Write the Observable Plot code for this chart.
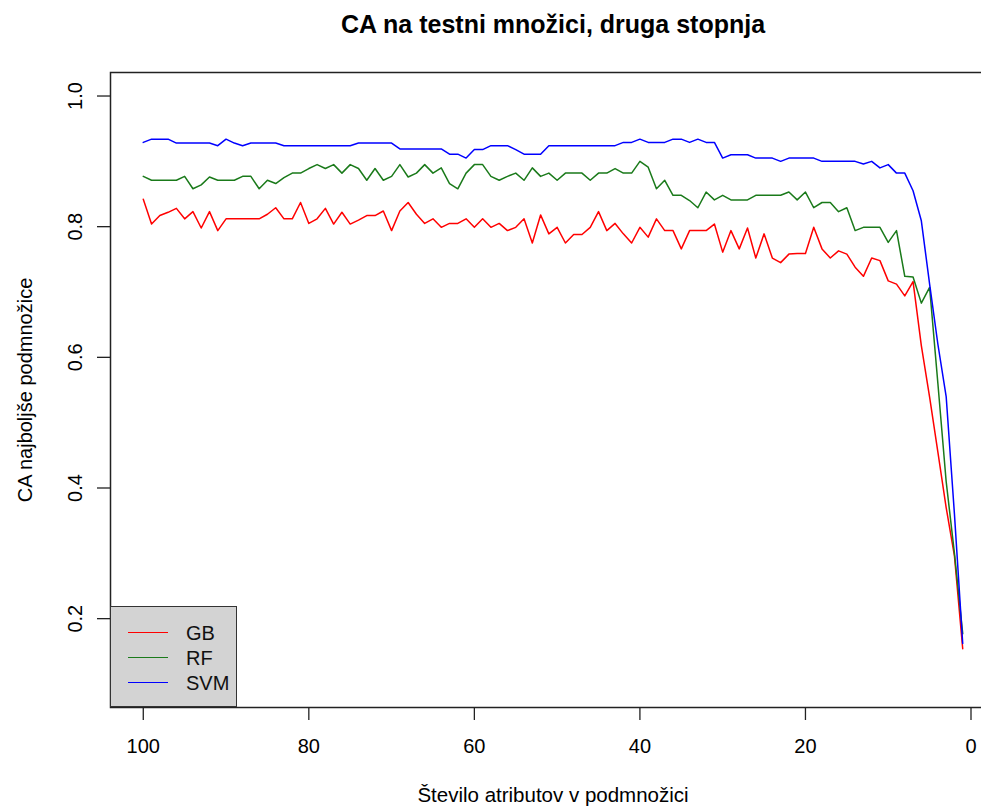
<!DOCTYPE html>
<html>
<head>
<meta charset="utf-8">
<script src="https://cdn.jsdelivr.net/npm/d3@7"></script>
<script src="https://cdn.jsdelivr.net/npm/@observablehq/plot@0.6"></script>
<style>
  html, body { margin: 0; padding: 0; background: #fff; overflow: hidden; }
  #wrap { position: relative; width: 981px; height: 807px; font-family: "Liberation Sans", Arial, sans-serif; }
  #wrap svg { overflow: hidden; }
  #legend { position: absolute; left: 110px; top: 606px; width: 127px; height: 101px; box-sizing: border-box;
            background: #d3d3d3; border: 1.5px solid #333; }
  .item { position: absolute; left: 0; height: 24px; width: 127px; }
  .item .sw { position: absolute; left: 17px; top: 11px; width: 40px; height: 0; border-top: 1.6px solid; }
  .item .lb { position: absolute; left: 75px; top: 0; font-size: 20px; line-height: 24px; color: #111; }
</style>
</head>
<body>
<div id="wrap"></div>
<script>
// ---- data ----
const title = "CA na testni množici, druga stopnja";
const xLabel = "Število atributov v podmnožici";
const yLabel = "CA najboljše podmnožice";
const models = ["GB", "RF", "SVM"];
const colors = ["#ff0000", "#1a7a1a", "#0000ff"];
const xTicks = [100, 80, 60, 40, 20, 0];
const yTicks = [0.2, 0.4, 0.6, 0.8, 1.0];

// number of attributes, from 100 down to 1
const nAttr = d3.range(100, 0, -1);

const gb = [
  0.842, 0.804, 0.817, 0.822, 0.828, 0.812, 0.823, 0.798, 0.823, 0.794,
  0.812, 0.812, 0.812, 0.812, 0.812, 0.819, 0.829, 0.812, 0.812, 0.837,
  0.805, 0.812, 0.828, 0.804, 0.822, 0.804, 0.810, 0.817, 0.817, 0.824,
  0.794, 0.824, 0.837, 0.819, 0.805, 0.812, 0.799, 0.805, 0.805, 0.812,
  0.799, 0.812, 0.799, 0.805, 0.794, 0.799, 0.812, 0.775, 0.818, 0.789,
  0.799, 0.775, 0.788, 0.788, 0.799, 0.823, 0.794, 0.805, 0.789, 0.775,
  0.799, 0.784, 0.812, 0.794, 0.794, 0.766, 0.794, 0.794, 0.794, 0.804,
  0.761, 0.794, 0.766, 0.798, 0.752, 0.789, 0.752, 0.745, 0.758, 0.759,
  0.759, 0.799, 0.766, 0.752, 0.763, 0.758, 0.738, 0.724, 0.752, 0.748,
  0.717, 0.712, 0.694, 0.716, 0.618, 0.539, 0.455, 0.370, 0.296, 0.154
];
const rf = [
  0.877, 0.871, 0.871, 0.871, 0.871, 0.877, 0.858, 0.864, 0.876, 0.871,
  0.871, 0.871, 0.877, 0.877, 0.858, 0.871, 0.866, 0.875, 0.882, 0.882,
  0.889, 0.895, 0.889, 0.895, 0.882, 0.895, 0.889, 0.871, 0.889, 0.871,
  0.877, 0.895, 0.876, 0.882, 0.895, 0.882, 0.890, 0.866, 0.858, 0.882,
  0.895, 0.895, 0.877, 0.871, 0.877, 0.882, 0.871, 0.890, 0.877, 0.882,
  0.871, 0.882, 0.882, 0.882, 0.871, 0.882, 0.882, 0.889, 0.882, 0.882,
  0.900, 0.891, 0.858, 0.871, 0.848, 0.848, 0.840, 0.829, 0.853, 0.841,
  0.848, 0.841, 0.841, 0.841, 0.848, 0.848, 0.848, 0.848, 0.853, 0.841,
  0.853, 0.829, 0.837, 0.837, 0.823, 0.829, 0.794, 0.799, 0.799, 0.799,
  0.776, 0.794, 0.724, 0.723, 0.683, 0.707, 0.560, 0.410, 0.300, 0.177
];
const svm = [
  0.929, 0.934, 0.934, 0.934, 0.928, 0.928, 0.928, 0.928, 0.928, 0.924,
  0.934, 0.928, 0.924, 0.928, 0.928, 0.928, 0.928, 0.924, 0.924, 0.924,
  0.924, 0.924, 0.924, 0.924, 0.924, 0.924, 0.928, 0.928, 0.928, 0.928,
  0.928, 0.919, 0.919, 0.919, 0.919, 0.919, 0.919, 0.911, 0.911, 0.905,
  0.918, 0.918, 0.924, 0.924, 0.924, 0.918, 0.911, 0.911, 0.911, 0.924,
  0.924, 0.924, 0.924, 0.924, 0.924, 0.924, 0.924, 0.924, 0.929, 0.929,
  0.934, 0.929, 0.929, 0.929, 0.934, 0.934, 0.929, 0.934, 0.929, 0.929,
  0.905, 0.910, 0.910, 0.910, 0.905, 0.905, 0.905, 0.900, 0.905, 0.905,
  0.905, 0.905, 0.900, 0.900, 0.900, 0.900, 0.900, 0.896, 0.900, 0.890,
  0.895, 0.882, 0.882, 0.855, 0.809, 0.712, 0.620, 0.540, 0.360, 0.162
];

const series = {GB: gb, RF: rf, SVM: svm};
const rows = models.flatMap(m => nAttr.map((n, i) => ({n, ca: series[m][i], model: m})));

const font = '"Liberation Sans", Arial, sans-serif';

const chart = Plot.plot({
  width: 981,
  height: 807,
  marginTop: 72,
  marginBottom: 100,
  marginLeft: 110,
  marginRight: -14,
  style: {fontFamily: font, background: "#fff", color: "#000", overflow: "hidden"},
  x: {domain: [103.96, -2.96], axis: null},
  y: {domain: [0.064, 1.036], axis: null},
  color: {domain: models, range: colors},
  marks: [
    Plot.line(rows, {x: "n", y: "ca", z: "model", stroke: "model", strokeWidth: 1.5}),
    Plot.frame({stroke: "#222", strokeWidth: 1.5}),
    Plot.axisX({ticks: xTicks, anchor: "bottom", tickSize: 13, tickPadding: 18, fontSize: 20,
                tickFormat: d => String(d), label: null, stroke: "#222", strokeWidth: 1.3}),
    Plot.axisY({ticks: yTicks, anchor: "left", tickSize: 13, tickFormat: () => "", label: null,
                stroke: "#222", strokeWidth: 1.3}),
    Plot.text(yTicks, {y: d => d, text: d => d.toFixed(1), frameAnchor: "left", dx: -35,
                       rotate: -90, textAnchor: "middle", lineAnchor: "middle", fontSize: 20}),
    Plot.text([yLabel], {frameAnchor: "left", dx: -85, rotate: -90, textAnchor: "middle",
                         lineAnchor: "middle", fontSize: 20}),
    Plot.text([xLabel], {frameAnchor: "bottom", dy: 94, lineAnchor: "bottom", fontSize: 20.5}),
    Plot.text([title], {frameAnchor: "top", dy: -40, lineAnchor: "bottom", fontSize: 25, fontWeight: "bold"})
  ]
});

const wrap = document.getElementById("wrap");
wrap.appendChild(chart);

// legend
const legend = document.createElement("div");
legend.id = "legend";
models.forEach((m, i) => {
  const item = document.createElement("div");
  item.className = "item";
  item.style.top = (14 + i * 25) + "px";
  const sw = document.createElement("div");
  sw.className = "sw";
  sw.style.borderTopColor = colors[i];
  const lb = document.createElement("div");
  lb.className = "lb";
  lb.textContent = m;
  item.appendChild(sw);
  item.appendChild(lb);
  legend.appendChild(item);
});
wrap.appendChild(legend);
</script>
</body>
</html>
